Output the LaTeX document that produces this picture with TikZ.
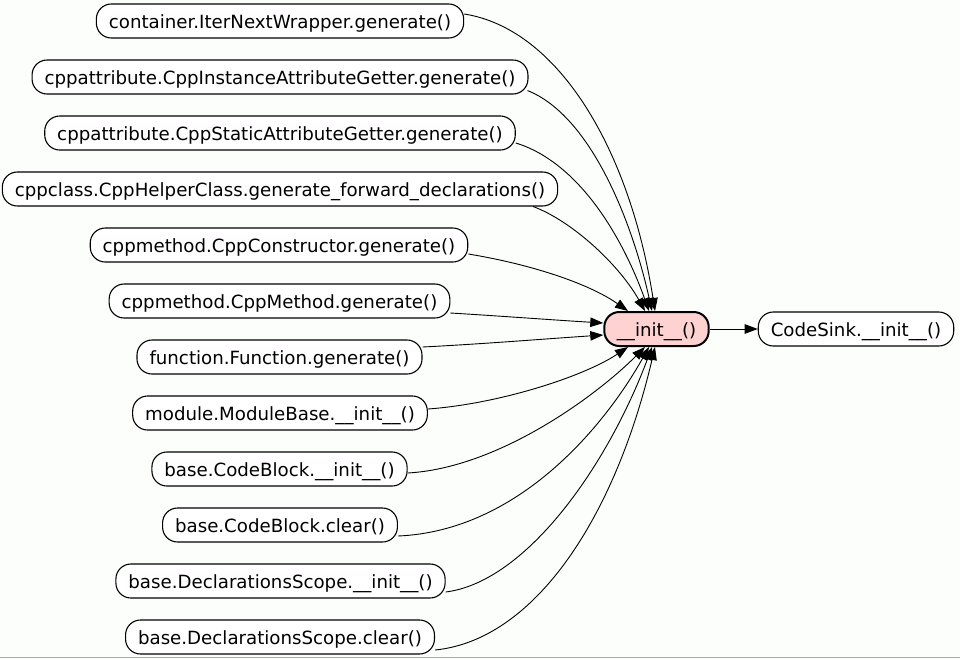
\documentclass[tikz,border=0pt]{standalone}
\usepackage{fontspec}
\setmainfont{DejaVu Sans}
\usetikzlibrary{arrows.meta}
\definecolor{bgc}{RGB}{252,254,252}
\definecolor{pinkfill}{RGB}{255,210,210}
\definecolor{framegray}{RGB}{170,170,170}
\tikzset{
  fnode/.style={draw, line width=1.1pt, rounded corners=15pt, minimum height=34pt,
    inner xsep=12.5pt, inner ysep=0pt, fill=white, text height=15pt, text depth=0pt,
    font=\fontsize{18.2pt}{21pt}\selectfont},
  focusnode/.style={fnode, line width=2pt, fill=pinkfill},
  edge/.style={draw, line width=0.9pt, -{Triangle[length=13pt,width=9.5pt]}}
}
\begin{document}
\begin{tikzpicture}[x=1pt,y=-1pt]
\fill[bgc] (0,0) rectangle (960,659);
\useasboundingbox (0,0) rectangle (960,659);
\draw[framegray, line width=1.3pt] (0,657.6) -- (960,657.6);

\node[fnode] (n1) at (280,21) {container.IterNextWrapper.generate()};
\node[fnode] (n2) at (280,77) {cppattribute.CppInstanceAttributeGetter.generate()};
\node[fnode] (n3) at (280,133) {cppattribute.CppStaticAttributeGetter.generate()};
\node[fnode] (n4) at (280,189) {cppclass.CppHelperClass.generate\_forward\_declarations()};
\node[fnode] (n5) at (279,245) {cppmethod.CppConstructor.generate()};
\node[fnode] (n6) at (279.5,301) {cppmethod.CppMethod.generate()};
\node[fnode] (n7) at (279.5,357) {function.Function.generate()};
\node[fnode] (n8) at (280,413) {module.ModuleBase.\_\_init\_\_()};
\node[fnode] (n9) at (279.5,469) {base.CodeBlock.\_\_init\_\_()};
\node[fnode] (n10) at (280,525) {base.CodeBlock.clear()};
\node[fnode] (n11) at (280.5,581) {base.DeclarationsScope.\_\_init\_\_()};
\node[fnode] (n12) at (280,637) {base.DeclarationsScope.clear()};

\node[focusnode] (c) at (656.5,329) {\_\_init\_\_()};
\node[fnode] (sink) at (856,329) {CodeSink.\_\_init\_\_()};

\draw[edge] ([yshift=7pt]n1.east) .. controls +(95,15) and +(-25,-160) .. ([xshift=-1.5pt]c.north);
\draw[edge] ([xshift=-1pt,yshift=4pt]n2.south east) .. controls +(63,25) and +(-20,-90) .. ([xshift=-4.5pt]c.north);
\draw[edge] ([yshift=-10pt]n3.east) .. controls +(65,20) and +(-25,-70) .. ([xshift=-7.5pt]c.north);
\draw[edge] ([xshift=-25pt]n4.south east) .. controls +(40,15) and +(-25,-45) .. ([xshift=-11.5pt]c.north);
\draw[edge] ([yshift=-9pt]n5.east) .. controls +(61,10) and +(-40,-28) .. ([xshift=-28.5pt]c.north);
\draw[edge] ([yshift=-12pt]n6.east) .. controls +(50,3) and +(-50,-3) .. ([yshift=6pt]c.west);
\draw[edge] ([yshift=10pt]n7.east) .. controls +(60,-3) and +(-60,4) .. ([yshift=-6pt]c.west);
\draw[edge] ([yshift=4pt]n8.east) .. controls +(70,-5) and +(-45,30) .. ([xshift=-28.5pt]c.south);
\draw[edge] ([yshift=-4pt]n9.east) .. controls +(90,-5) and +(-50,50) .. ([xshift=-11.5pt]c.south);
\draw[edge] ([yshift=-11pt]n10.east) .. controls +(120,-5) and +(-45,80) .. ([xshift=-7.5pt]c.south);
\draw[edge] ([yshift=-11pt]n11.east) .. controls +(80,-10) and +(-45,120) .. ([xshift=-4.5pt]c.south);
\draw[edge] ([yshift=-13pt]n12.east) .. controls +(100,-10) and +(-40,170) .. ([xshift=-1.5pt]c.south);
\draw[edge] (c) -- (sink);
\end{tikzpicture}
\end{document}
